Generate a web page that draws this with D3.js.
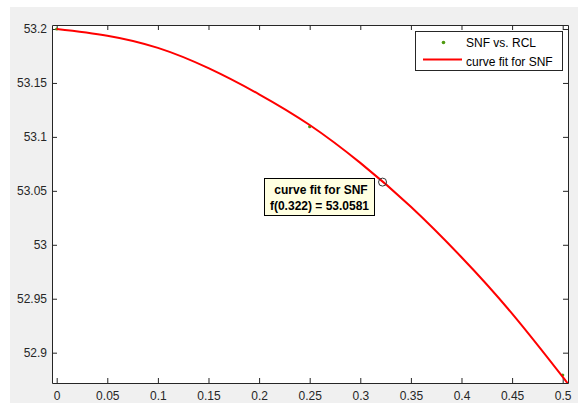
<!DOCTYPE html>
<html>
<head>
<meta charset="utf-8">
<title>SNF vs. RCL</title>
<script src="https://d3js.org/d3.v7.min.js"></script>
<style>
  body { margin: 0; background: #fff; }
  text { font-family: 'Liberation Sans', Arial, sans-serif; }
  .axis text { font-size: 12px; fill: #262626; }
  .axis path, .axis line { stroke: #262626; }
</style>
</head>
<body>
<div id="chart"></div>
<script>
// ******* Data *******
const fitX = [0, 0.05, 0.1, 0.15, 0.2, 0.25, 0.3, 0.35, 0.4, 0.45, 0.5, 0.505];
const fitY = [53.2, 53.1938, 53.1825, 53.1637, 53.1395, 53.111, 53.0759, 53.0352, 52.9885, 52.9362, 52.8775, 52.8712];
const pointX = [0, 0.25, 0.5];
const pointY = [53.2, 53.1095, 52.8793];
const xTicks = [0, 0.05, 0.1, 0.15, 0.2, 0.25, 0.3, 0.35, 0.4, 0.45, 0.5];
const yTicks = [52.9, 52.95, 53, 53.05, 53.1, 53.15, 53.2];
const tipX = 0.322, tipY = 53.0581;
const seriesNames = ["SNF vs. RCL", "curve fit for SNF"];

// ******* Constants *******
const width = 578, height = 405;
const plot = { left: 52, top: 25, right: 568, bottom: 383 };

const svg = d3.select("#chart").append("svg")
    .attr("width", width)
    .attr("height", height);

// figure background
svg.append("rect")
    .attr("x", 10).attr("y", 7)
    .attr("width", width - 10).attr("height", 396)
    .attr("fill", "#f0f0f0");

// ******* Scales *******
const x = d3.scaleLinear().domain([-0.00464, 0.50524]).range([plot.left, plot.right]);
const y = d3.scaleLinear().domain([52.8719, 53.2037]).range([plot.bottom, plot.top]);

svg.append("rect")
    .attr("x", plot.left).attr("y", plot.top)
    .attr("width", plot.right - plot.left).attr("height", plot.bottom - plot.top)
    .attr("fill", "#fff");

// ******* Axes *******
svg.append("g").attr("class", "axis")
    .attr("transform", `translate(0,${plot.bottom})`)
    .call(d3.axisBottom(x).tickValues(xTicks).tickSize(-5).tickSizeOuter(0).tickPadding(8)
        .tickFormat(d => String(+d.toFixed(2))));
svg.append("g").attr("class", "axis")
    .attr("transform", `translate(0,${plot.top})`)
    .call(d3.axisTop(x).tickValues(xTicks).tickSize(-5).tickSizeOuter(0).tickFormat(""));
svg.append("g").attr("class", "axis")
    .attr("transform", `translate(${plot.left},0)`)
    .call(d3.axisLeft(y).tickValues(yTicks).tickSize(-5).tickSizeOuter(0).tickPadding(5)
        .tickFormat(d => String(+d.toFixed(2))));
svg.append("g").attr("class", "axis")
    .attr("transform", `translate(${plot.right},0)`)
    .call(d3.axisRight(y).tickValues(yTicks).tickSize(-5).tickSizeOuter(0).tickFormat(""));

// ******* Clip *******
svg.append("clipPath").attr("id", "clip")
  .append("rect")
    .attr("x", plot.left).attr("y", plot.top)
    .attr("width", plot.right - plot.left).attr("height", plot.bottom - plot.top);

const g = svg.append("g").attr("clip-path", "url(#clip)");

// data points
g.selectAll("circle.pt")
  .data(pointX)
  .enter().append("circle")
    .attr("class", "pt")
    .attr("cx", d => x(d))
    .attr("cy", (d, i) => y(pointY[i]))
    .attr("r", 1.6)
    .attr("fill", "#4f9a10");

// fitted curve
const line = d3.line()
    .x(d => x(d))
    .y((d, i) => y(fitY[i]))
    .curve(d3.curveNatural);

g.append("path")
    .datum(fitX)
    .attr("d", line)
    .attr("fill", "none")
    .attr("stroke", "#ff0000")
    .attr("stroke-width", 2);

// ******* Data tip *******
svg.append("circle")
    .attr("cx", x(tipX)).attr("cy", y(tipY))
    .attr("r", 4)
    .attr("fill", "none")
    .attr("stroke", "#333")
    .attr("stroke-width", 1);

const tip = svg.append("g");
tip.append("rect")
    .attr("x", 264.5).attr("y", 178.5)
    .attr("width", 110).attr("height", 37)
    .attr("fill", "#ffffe1")
    .attr("stroke", "#000");
tip.append("text")
    .attr("x", 321).attr("y", 194)
    .attr("text-anchor", "middle")
    .style("font-size", "12px").style("font-weight", "bold")
    .text(seriesNames[1]);
tip.append("text")
    .attr("x", 319.5).attr("y", 210)
    .attr("text-anchor", "middle")
    .style("font-size", "12px").style("font-weight", "bold")
    .text(`f(${tipX}) = ${tipY}`);

// ******* Legend *******
const legend = svg.append("g");
legend.append("rect")
    .attr("x", 415.5).attr("y", 31.5)
    .attr("width", 147).attr("height", 39)
    .attr("fill", "#fff")
    .attr("stroke", "#262626");
legend.append("circle")
    .attr("cx", 443.5).attr("cy", 42.5)
    .attr("r", 1.8)
    .attr("fill", "#4f9a10");
legend.append("line")
    .attr("x1", 423).attr("x2", 462)
    .attr("y1", 59.5).attr("y2", 59.5)
    .attr("stroke", "#ff0000")
    .attr("stroke-width", 2);
legend.selectAll("text.lg")
  .data(seriesNames)
  .enter().append("text")
    .attr("class", "lg")
    .attr("x", 466)
    .attr("y", (d, i) => 47 + i * 18.5)
    .style("font-size", "12px")
    .attr("fill", "#000")
    .text(d => d);
</script>
</body>
</html>
